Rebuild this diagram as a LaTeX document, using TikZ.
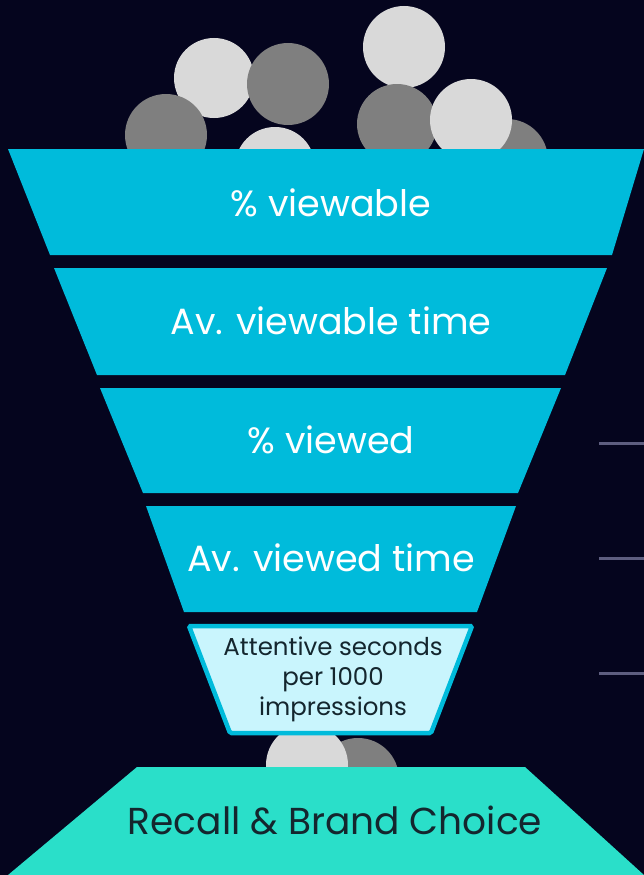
\documentclass[tikz,border=0pt]{standalone}
\usepackage{fontspec}
\setmainfont{Poppins}
\definecolor{bg}{HTML}{05051E}
\definecolor{funnel}{HTML}{00BBDB}
\definecolor{funnellight}{HTML}{C9F5FD}
\definecolor{basegreen}{HTML}{2ADFC9}
\definecolor{ballLight}{HTML}{D9D9D9}
\definecolor{ballDark}{HTML}{7F7F7F}
\definecolor{tick}{HTML}{5E5E80}
\definecolor{darktext}{HTML}{14262E}
\tikzset{
  lightball/.style={fill=ballLight},
  darkball/.style={fill=ballDark},
  band/.style={fill=funnel},
  bandtext/.style={text=white, font=\fontsize{36.5}{40}\selectfont, inner sep=0pt},
  smalltext/.style={text=darktext, font=\fontsize{24.5}{30}\selectfont, align=center, inner sep=0pt},
  basetext/.style={text=darktext, font=\fontsize{37.5}{42}\selectfont, inner sep=0pt},
  tickline/.style={draw=tick, line width=3pt}
}
\begin{document}
\begin{tikzpicture}[x=1pt,y=-1pt]
  % background
  \fill[bg] (0,0) rectangle (644,875);
  \useasboundingbox (0,0) rectangle (644,875);

  % balls above the funnel
  \fill[lightball] (214,78) circle (40);
  \fill[darkball]  (166,135) circle (41);
  \fill[darkball]  (288,84) circle (41);
  \fill[lightball] (275,167) circle (40);
  \fill[lightball] (404,47) circle (41);
  \fill[darkball]  (397,124) circle (40);
  \fill[darkball]  (507,160) circle (41);
  \fill[lightball] (471,120) circle (41);

  % balls falling out below
  \fill[darkball]  (358,779) circle (41);
  \fill[lightball] (307,765) circle (41);

  % funnel bands
  \fill[band] (8,149) -- (644,149) -- (612,255) -- (50,255) -- cycle;
  \fill[band] (54,268) -- (607,268) -- (565,375) -- (97,375) -- cycle;
  \fill[band] (100,388) -- (561,388) -- (518,493) -- (143,493) -- cycle;
  \fill[band] (146,506) -- (516,506) -- (477,612) -- (184,612) -- cycle;
  \filldraw[fill=funnellight, draw=funnel, line width=4.5pt, rounded corners=1.5pt]
    (189,626) -- (472,626) -- (431,733) -- (230,733) -- cycle;

  % base
  \fill[basegreen] (137,767) -- (525,767) -- (644,875) -- (8,875) -- cycle;

  % labels
  \node[bandtext] (viewable) at (331,203) {\% viewable};
  \node[bandtext] (avviewable) at (331,321) {Av. viewable time};
  \node[bandtext] (viewed) at (331,440) {\% viewed};
  \node[bandtext] (avviewed) at (331,558) {Av. viewed time};
  \node[smalltext] (attentive) at (333,679) {Attentive seconds\\per 1000\\impressions};
  \node[basetext] (recall) at (335,820) {Recall \& Brand Choice};

  % tick marks on the right
  \coordinate (t1a) at (599,443); \coordinate (t1b) at (644,443);
  \coordinate (t2a) at (599,558); \coordinate (t2b) at (644,558);
  \coordinate (t3a) at (599,673); \coordinate (t3b) at (644,673);
  \draw[tickline] (t1a) -- (t1b);
  \draw[tickline] (t2a) -- (t2b);
  \draw[tickline] (t3a) -- (t3b);
\end{tikzpicture}
\end{document}
